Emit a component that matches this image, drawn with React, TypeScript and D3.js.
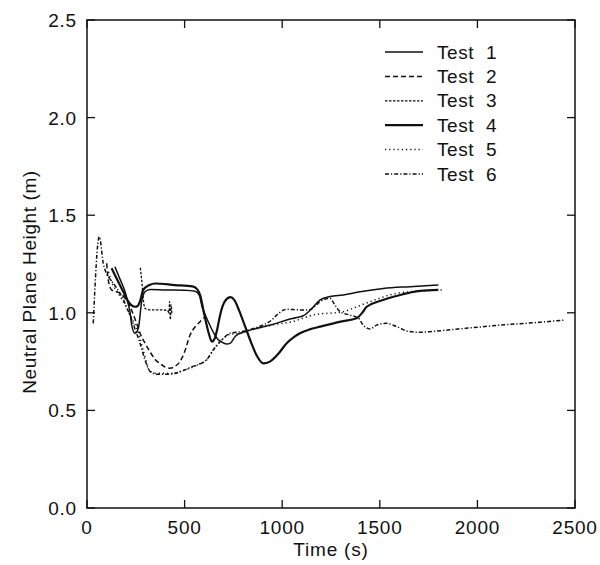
import React from "react";
import * as d3 from "d3";

type P = [number, number];

const seriesNames = ["Test 1", "Test 2", "Test 3", "Test 4", "Test 5", "Test 6"];

const test1: P[] = [[143,1.236],[170,1.17],[195,1.108],[210,1.05],[220,1.006],[229,0.937],[246,0.895],[263,0.921],[280,1.057],[297,1.108],[323,1.12],[400,1.117],[500,1.115],[553,1.11],[575,1.09],[590,1.03],[610,0.98],[630,0.935],[650,0.895],[670,0.865],[690,0.85],[715,0.84],[735,0.845],[760,0.88],[800,0.9],[850,0.915],[950,0.94],[1023,0.963],[1070,0.975],[1108,0.985],[1150,1.02],[1194,1.066],[1245,1.083],[1313,1.091],[1399,1.108],[1518,1.125],[1655,1.134],[1800,1.142]];

const test2: P[] = [[101,1.254],[109,1.168],[126,1.117],[169,1.1],[212,1.049],[254,0.946],[272,0.895],[300,0.84],[323,0.8],[350,0.76],[374,0.74],[400,0.722],[425,0.716],[450,0.725],[476,0.75],[500,0.8],[528,0.886],[555,0.93],[579,0.954],[600,0.975]];

const test3: P[] = [[273,1.23],[280,1.17],[286,1.1],[292,1.04],[300,1.02],[330,1.015],[380,1.015],[412,1.012],[420,1.0],[423,1.057],[427,0.965],[431,1.04],[435,0.99]];

const test4: P[] = [[126,1.228],[160,1.159],[190,1.1],[212,1.057],[246,1.031],[260,1.035],[271,1.057],[288,1.117],[320,1.142],[350,1.15],[450,1.142],[540,1.135],[565,1.12],[580,1.09],[595,1.02],[610,0.95],[625,0.89],[640,0.852],[655,0.87],[668,0.92],[680,0.98],[695,1.035],[715,1.07],[735,1.08],[755,1.065],[780,1.01],[810,0.93],[840,0.85],[870,0.78],[903,0.741],[937,0.75],[980,0.79],[1023,0.844],[1060,0.875],[1091,0.895],[1140,0.915],[1194,0.929],[1300,0.955],[1381,0.972],[1410,1.0],[1433,1.031],[1500,1.06],[1600,1.09],[1706,1.112],[1800,1.117]];

const test5: P[] = [[110,1.21],[130,1.15],[160,1.1],[200,1.03],[235,0.96],[263,0.9],[290,0.8],[323,0.7],[360,0.69],[400,0.69],[442,0.69],[490,0.705],[528,0.716],[570,0.735],[613,0.758],[647,0.81],[690,0.86],[733,0.89],[784,0.895],[809,0.903],[870,0.92],[946,0.937],[1049,0.954],[1160,0.989],[1313,1.006],[1380,1.03],[1450,1.057],[1587,1.1],[1655,1.108],[1817,1.117]];

const test6: P[] = [[32,0.946],[63,1.39],[84,1.25],[100,1.2],[120,1.17],[150,1.13],[180,1.08],[215,1.0],[245,0.92],[270,0.85],[300,0.75],[323,0.7],[360,0.685],[420,0.685],[470,0.695],[528,0.72],[613,0.76],[647,0.81],[690,0.86],[733,0.895],[800,0.905],[870,0.925],[946,0.963],[985,1.0],[1023,1.018],[1080,1.015],[1134,1.014],[1170,1.035],[1194,1.057],[1245,1.074],[1270,1.04],[1296,1.006],[1340,0.99],[1390,0.973],[1415,0.937],[1450,0.917],[1484,0.937],[1535,0.946],[1587,0.929],[1646,0.905],[1706,0.9],[1774,0.905],[1900,0.917],[2000,0.926],[2116,0.937],[2300,0.95],[2449,0.963]];

const xTicks = [0, 500, 1000, 1500, 2000, 2500];
const yTicks = [0, 0.5, 1.0, 1.5, 2.0, 2.5];

const allSeries = [test1, test2, test3, test4, test5, test6];

const styles = [
  { w: 1.5, dash: "none" },
  { w: 1.5, dash: "5,3" },
  { w: 1.3, dash: "2.5,1.5" },
  { w: 2.2, dash: "none" },
  { w: 1.5, dash: "1.2,3" },
  { w: 1.5, dash: "4,2,1.2,2" },
];

export default function App() {
  const L = 87, R = 575, T = 20, B = 508;
  const x = d3.scaleLinear().domain([0, 2500]).range([L, R]);
  const y = d3.scaleLinear().domain([0, 2.5]).range([B, T]);
  const line = d3.line<P>().x(d => x(d[0])).y(d => y(d[1])).curve(d3.curveMonotoneX);
  const font = "'Liberation Sans', Arial, Helvetica, sans-serif";
  const col = "#111";
  const tl = 8;
  return (
    <svg width={600} height={565} style={{ position: "absolute", left: 0, top: 0, background: "#fff" }} fontFamily={font}>
      <rect x={0} y={0} width={600} height={565} fill="#fff" />
      {/* frame */}
      <rect x={L} y={T} width={R - L} height={B - T} fill="none" stroke={col} strokeWidth={1.5} />
      {xTicks.map((t, i) => (
        <g key={"xt" + i}>
          <line x1={x(t)} x2={x(t)} y1={B} y2={B - tl} stroke={col} strokeWidth={1.3} />
          <line x1={x(t)} x2={x(t)} y1={T} y2={T + tl} stroke={col} strokeWidth={1.3} />
          <text x={x(t)} y={534} textAnchor="middle" fontSize={19} letterSpacing={0.8} fill={col}>{String(t)}</text>
        </g>
      ))}
      {yTicks.map((v, i) => (
        <g key={"yt" + i}>
          <line x1={L} x2={L + tl} y1={y(v)} y2={y(v)} stroke={col} strokeWidth={1.3} />
          <line x1={R} x2={R - tl} y1={y(v)} y2={y(v)} stroke={col} strokeWidth={1.3} />
          <text x={77} y={y(v) + 7} textAnchor="end" fontSize={19} letterSpacing={0.8} fill={col}>{v.toFixed(1)}</text>
        </g>
      ))}
      <text x={(L + R) / 2} y={556} textAnchor="middle" fontSize={19} letterSpacing={0.8} fill={col}>Time (s)</text>
      <text transform={`translate(36,282) rotate(-90)`} textAnchor="middle" fontSize={19} letterSpacing={0.6} fill={col}>Neutral Plane Height (m)</text>
      {/* series */}
      {allSeries.map((s, i) => (
        <path key={"s" + i} d={line(s) || ""} fill="none" stroke={col} strokeWidth={styles[i].w}
          strokeDasharray={styles[i].dash} strokeLinejoin="round" />
      ))}
      {/* legend */}
      {seriesNames.map((n, i) => {
        const cy = 52 + i * 24.4;
        return (
          <g key={"lg" + i}>
            <line x1={385} x2={423} y1={cy} y2={cy} stroke={col} strokeWidth={styles[i].w} strokeDasharray={styles[i].dash} />
            <text x={437} y={cy + 6.5} fontSize={19} letterSpacing={0.6} fill={col} style={{ whiteSpace: "pre" }}>{n.replace(" ", "  ")}</text>
          </g>
        );
      })}
    </svg>
  );
}
